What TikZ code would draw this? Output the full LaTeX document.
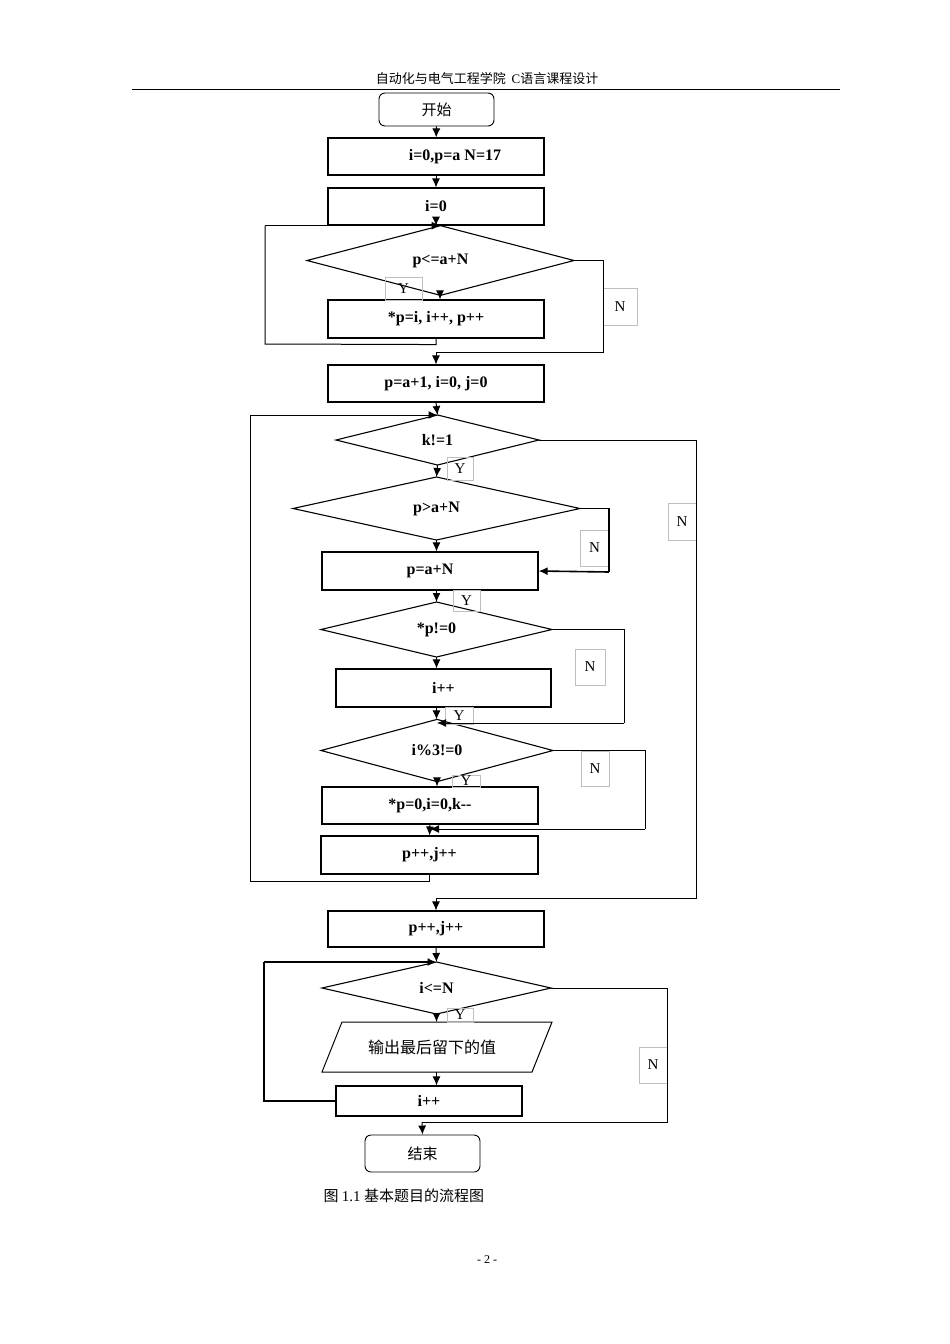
\documentclass[tikz,border=0pt]{standalone}
\usepackage{fontspec}
\setmainfont{Liberation Serif}
\newfontfamily\cjk{Noto Sans CJK SC}
\usetikzlibrary{shapes.geometric,arrows.meta}
\begin{document}
\begin{tikzpicture}[x=1pt,y=-1pt,
  box/.style={draw,line width=1.1pt,inner sep=0pt,font=\fontsize{16}{18}\selectfont\bfseries},
  dia/.style={draw,line width=1.1pt,diamond,inner sep=0pt,outer sep=0pt,font=\fontsize{16}{18}\selectfont\bfseries},
  term/.style={draw,line width=0.9pt,rounded corners=6pt,inner sep=0pt,font=\cjk\fontsize{15}{18}\selectfont},
  lab/.style={draw=gray!50,line width=0.4pt,inner sep=0pt,font=\fontsize{15}{18}\selectfont},
  ar/.style={line width=1pt,-{Latex[length=9pt,width=8pt]}},
  ln/.style={line width=1pt}]
\useasboundingbox (0,0) rectangle (950,1344);
\node[font=\cjk\fontsize{13}{15}\selectfont] (hdr) at (487,79) {自动化与电气工程学院 \ {\fontspec{Liberation Serif}C}语言课程设计};
\draw[line width=0.8pt] (132,89) coordinate (hl) -- (840,89) coordinate (hr);
\node[term,minimum width=115,minimum height=33] (s) at (436.5,109.5) {开始};
\node[box,minimum width=216,minimum height=37] (b1) at (436,156.5) {\hspace{38pt}i=0,p=a N=17};
\node[box,minimum width=216,minimum height=37] (b2) at (436,206.5) {i=0};
\node[dia,minimum width=267,minimum height=57] (d1) at (440.5,260.5) {p<=a+N};
\node[box,minimum width=216,minimum height=38] (b3) at (436,319) {*p=i, i++, p++};
\node[box,minimum width=216,minimum height=37] (b4) at (436,383.5) {p=a+1, i=0, j=0};
\node[dia,minimum width=203,minimum height=50] (d2) at (437.5,440) {k!=1};
\node[dia,minimum width=287,minimum height=63] (d3) at (436.5,508.5) {p>a+N};
\node[box,minimum width=216,minimum height=38] (b5) at (430,571) {p=a+N};
\node[dia,minimum width=231,minimum height=55] (d4) at (436.5,629.5) {*p!=0};
\node[box,minimum width=215,minimum height=38] (b6) at (443.5,688) {i++};
\node[dia,minimum width=232,minimum height=55] (d5) at (437,750.5) {i\%3!=0};
\node[box,minimum width=216,minimum height=37] (b7) at (430,805.5) {*p=0,i=0,k-{}-};
\node[box,minimum width=217,minimum height=38] (b8) at (429.5,855) {p++,j++};
\node[box,minimum width=216,minimum height=36] (b9) at (436,929) {p++,j++};
\node[dia,minimum width=229,minimum height=52] (d6) at (436.5,988) {i<=N};
\draw[line width=1pt] (342,1022) -- (552,1022) -- (532,1072) -- (322,1072) -- cycle;
\node[font=\cjk\fontsize{16}{18}\selectfont] (out) at (432,1047) {输出最后留下的值};
\node[box,minimum width=186,minimum height=30] (b10) at (429,1101) {i++};
\node[term,minimum width=115,minimum height=37] (e) at (422.5,1153.5) {结束};
% labels
\node[lab,minimum width=37,minimum height=23] (y1) at (403.5,288.5) {Y};
\node[lab,minimum width=34,minimum height=37] (n1) at (620,306.5) {N};
\node[lab,minimum width=26,minimum height=23] (y2) at (460,468.5) {Y};
\node[lab,minimum width=28,minimum height=37] (n2) at (682,521.5) {N};
\node[lab,minimum width=29,minimum height=36] (n3) at (594.5,548) {N};
\node[lab,minimum width=27,minimum height=21] (y3) at (466.5,600.5) {Y};
\node[lab,minimum width=30,minimum height=36] (n4) at (590,667) {N};
\node[lab,minimum width=28,minimum height=17] (y4) at (459,716) {Y};
\node[lab,minimum width=28,minimum height=35] (n5) at (595,768.5) {N};
\node[lab,minimum width=28,minimum height=12] (y5) at (466,781) {Y};
\node[lab,minimum width=26,minimum height=14] (y6) at (460,1015) {Y};
\node[lab,minimum width=28,minimum height=36] (n6) at (653,1065) {N};
% arrows main
\draw[ar] (s) -- (b1);
\draw[ar] (b1) -- (b2);
\draw[ar] (b2.south) -- (436,0 |- d1.north);
\draw[ar] (440,0 |- d1.south) -- (440,0 |- b3.north);
\draw[ln] (b3.south) -- ++(0,6) -- (265,344) -- (265,0 |- d1.north);
\draw[ar] (265,0 |- d1.north) -- (d1.north);
\draw[ln] (d1.east) -| (603,352) -- (436,352);
\draw[ar] (436,352) -- (b4.north);
\draw[ar] (b4.south) -- (d2.north);
\draw[ln] (b8.south) -- (429.5,881) -- (250,881) -- (250,0 |- d2.north);
\draw[ar] (250,0 |- d2.north) -- (d2.north);
\draw[ln] (d2.east) -| (696,898) -- (436,898);
\draw[ar] (436,898) -- (b9.north);
\draw[ar] (d2.south) -- (436.5,0 |- d3.north);
\draw[ar] (d3.south) -- (436.5,0 |- b5.north);
\draw[ln,line width=1.6pt] (d3.east) -| (609,572);
\draw[ar,line width=1.6pt] (609,572) -- (b5.east);
\draw[ar] (436.5,0 |- b5.south) -- (d4.north);
\draw[ar] (d4.south) -- (436.5,0 |- b6.north);
\draw[ar] (436.5,0 |- b6.south) -- (436.5,0 |- d5.north);
\draw[ln] (d4.east) -| (624,723);
\draw[ar] (624,723) -- (437,723);
\draw[ar] (d5.south) -- (437,0 |- b7.north);
\draw[ln] (d5.east) -| (645,829);
\draw[ar] (645,829) -- (430,829);
\draw[ar] (b7.south) -- (b8.north);
\draw[ar] (b9.south) -- (436.5,0 |- d6.north);
\draw[ar] (d6.south) -- (436.5,1022);
\draw[ar] (436.5,1072) -- (436.5,0 |- b10.north);
\draw[ln,line width=1.6pt] (b10.west) -- (264,1101) -- (264,0 |- d6.north);
\draw[ar,line width=1.6pt] (264,0 |- d6.north) -- (d6.north);
\draw[ln] (d6.east) -| (667,1122) -- (422,1122);
\draw[ar] (422,1122) -- (e.north);
\node[font=\cjk\fontsize{15}{18}\selectfont,anchor=west] (cap) at (320,1196) {图 {\fontspec{Liberation Serif}1.1} 基本题目的流程图};
\node[font=\fontsize{12}{14}\selectfont] (pg) at (487,1260) {- 2 -};
\end{tikzpicture}
\end{document}
